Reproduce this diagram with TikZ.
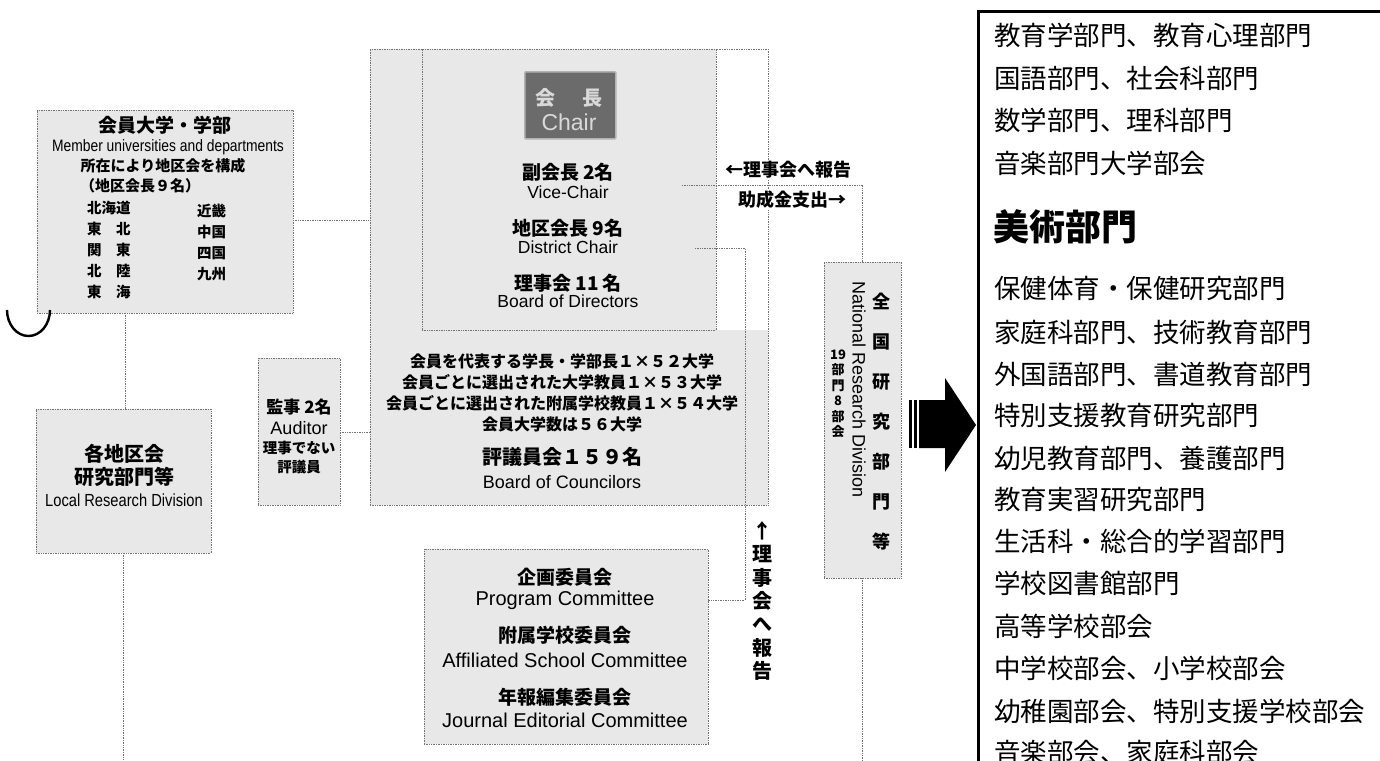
\documentclass[tikz,border=0pt]{standalone}
\usepackage{fontspec}
\setmainfont{Liberation Sans}
\newfontfamily\jp{Noto Sans CJK JP}
\newfontfamily\cond{Liberation Sans}[FakeStretch=0.84]
\newcommand\fsz[1]{\fontsize{#1}{#1}\selectfont}
\tikzset{
  box/.style={draw=black!55, densely dotted, line width=0.7pt, fill=black!9, inner sep=0pt, outer sep=0pt, anchor=north west},
  frame/.style={draw=black!55, densely dotted, line width=0.7pt, inner sep=0pt, outer sep=0pt, anchor=north west},
  conn/.style={draw=black!55, densely dotted, line width=0.7pt},
  jb/.style={font=\jp\bfseries\fsz{#1}, inner sep=0pt},
  en/.style={font=\fsz{#1}, inner sep=0pt},
  cn/.style={font=\cond\fsz{#1}, inner sep=0pt},
  pj/.style={font=\jp\fsz{26.5}, anchor=west, inner sep=0pt},
  lab/.style={font=\jp\bfseries\fsz{18}, fill=white, inner sep=1.5pt},
}
\begin{document}
\begin{tikzpicture}[x=1pt,y=-1pt]
\useasboundingbox (0,0) rectangle (1380,760);
% ---------- main outer region fill ----------
\fill[black!9] (370,49) -- (716,49) -- (716,330) -- (768,330) -- (768,505) -- (370,505) -- cycle;
\node[frame, minimum width=398pt, minimum height=456pt] (main) at (370,49) {};
\node[box, minimum width=294pt, minimum height=281pt] (board) at (422,49) {};
% ---------- boxes ----------
\node[box, minimum width=256pt, minimum height=203pt] (member) at (37,110) {};
\node[box, minimum width=175pt, minimum height=144pt] (local) at (36,409) {};
\node[box, minimum width=82pt, minimum height=147pt] (auditor) at (258,358) {};
\node[box, minimum width=284pt, minimum height=195pt] (committee) at (424,549) {};
\node[box, minimum width=77pt, minimum height=316pt] (national) at (824,262) {};
\node[draw=black!30, line width=1.6pt, fill=black!58, rounded corners=1pt, inner sep=0pt, anchor=north west, minimum width=91pt, minimum height=67pt] (chair) at (524,71) {};
% ---------- connectors ----------
\coordinate (mlx) at (125,0);
\coordinate (lbot) at (123.5,760);
\coordinate (vc) at (682,185);
\coordinate (dc) at (695,248);
\coordinate (dcr) at (745,600);
\coordinate (nbot) at (862.5,760);
\draw[conn] (member.east |- 0,220) -- (main.west |- 0,220);
\draw[conn] (member.south -| mlx) -- (local.north -| mlx);
\draw[conn] (local.south) -- (lbot);
\draw[conn] (auditor.east |- 0,432) -- (main.west |- 0,432);
\draw[conn] (vc) -| (national.north);
\draw[conn] (dc) -| (dcr) -- (committee.east |- dcr);
\draw[conn] (national.south) -- (nbot);
% ---------- left arc ----------
\draw[line width=2.4pt] (7,310) arc[start angle=180, end angle=0, x radius=21.5, y radius=26];
% ---------- member box text ----------
\node[jb=19] (m1) at (165,125) {会員大学・学部};
\node[cn=16.5] (m2) at (168,147) {Member universities and departments};
\node[jb=15] (m3) at (163,166) {所在により地区会を構成};
\node[jb=15, anchor=west] (m4) at (80,186) {（地区会長９名）};
\node[jb=14.5, anchor=west] (r1) at (87,208) {北海道};
\node[jb=14.5, anchor=west] (r2) at (87,229) {東　北};
\node[jb=14.5, anchor=west] (r3) at (87,250) {関　東};
\node[jb=14.5, anchor=west] (r4) at (87,271) {北　陸};
\node[jb=14.5, anchor=west] (r5) at (87,292) {東　海};
\node[jb=14.5, anchor=west] (r6) at (197,211) {近畿};
\node[jb=14.5, anchor=west] (r7) at (197,232) {中国};
\node[jb=14.5, anchor=west] (r8) at (197,253) {四国};
\node[jb=14.5, anchor=west] (r9) at (197,274) {九州};
% ---------- local box text ----------
\node[jb=20] (l1) at (124,454) {各地区会};
\node[jb=20] (l2) at (124,477) {研究部門等};
\node[cn=17.5] (l3) at (124,500) {Local Research Division};
% ---------- chair ----------
\node[jb=20, text=black!15] (c1) at (569,98) {会\hspace{27pt}長};
\node[en=23, text=black!15] (c2) at (569,122) {Chair};
% ---------- board text ----------
\node[jb=19] (b1) at (568,172) {副会長 2名};
\node[en=17.5] (b2) at (568,192) {Vice-Chair};
\node[jb=19] (b3) at (568,228) {地区会長 9名};
\node[en=17.5] (b4) at (568,247) {District Chair};
\node[jb=19] (b5) at (568,283) {理事会 11 名};
\node[en=17.5] (b6) at (568,301) {Board of Directors};
% ---------- council text ----------
\node[jb=16] (k1) at (562,361) {会員を代表する学長・学部長１×５２大学};
\node[jb=16] (k2) at (562,382) {会員ごとに選出された大学教員１×５３大学};
\node[jb=16] (k3) at (562,403) {会員ごとに選出された附属学校教員１×５４大学};
\node[jb=16] (k4) at (562,424) {会員大学数は５６大学};
\node[jb=20] (k5) at (562,457) {評議員会１５９名};
\node[en=18] (k6) at (562,482) {Board of Councilors};
% ---------- auditor text ----------
\node[jb=17] (a1) at (299,407) {監事 2名};
\node[en=18] (a2) at (299,428) {Auditor};
\node[jb=14.5] (a3) at (299,448) {理事でない};
\node[jb=14.5] (a4) at (299,467) {評議員};
% ---------- committee text ----------
\node[jb=19] (q1) at (565,577) {企画委員会};
\node[en=20] (q2) at (565,600) {Program Committee};
\node[jb=19] (q3) at (565,635) {附属学校委員会};
\node[en=20] (q4) at (565,660) {Affiliated School Committee};
\node[jb=19] (q5) at (565,697) {年報編集委員会};
\node[en=20] (q6) at (565,720) {Journal Editorial Committee};
% ---------- labels ----------
\node[lab] (rep1) at (788,170) {←理事会へ報告};
\node[lab] (sub1) at (792,200) {助成金支出→};
\node[font=\jp\bfseries\fontsize{20}{23.3}\selectfont, align=center, inner sep=0pt] (rep2) at (762,601) {↑\\理\\事\\会\\へ\\報\\告};
% ---------- national text ----------
\node[font=\jp\bfseries\fontsize{18}{40}\selectfont, align=center, inner sep=0pt] (n1) at (881,422) {全\\国\\研\\究\\部\\門\\等};
\node[en=18, rotate=-90] (n2) at (859,390) {National Research Division};
\node[font=\jp\bfseries\fontsize{13}{15.5}\selectfont, align=center, inner sep=0pt] (n3) at (838,394) {19\\部\\門\\8\\部\\会};
% ---------- big arrow ----------
\fill[black] (909,400) rectangle (912,448);
\fill[black] (914,400) rectangle (917,448);
\fill[black] (919,400) -- (945,400) -- (945,378) -- (976,425) -- (945,472) -- (945,448) -- (919,448) -- cycle;
% ---------- right panel ----------
\draw[line width=3pt] (978,762) -- (978,12) -- (1385,12);
\node[pj] (p1) at (994,35) {教育学部門、教育心理部門};
\node[pj] (p2) at (994,78) {国語部門、社会科部門};
\node[pj] (p3) at (994,120) {数学部門、理科部門};
\node[pj] (p4) at (994,163) {音楽部門大学部会};
\node[pj, font=\jp\bfseries\fsz{36}] (p5) at (993,227) {美術部門};
\node[pj] (p6) at (994,288) {保健体育・保健研究部門};
\node[pj] (p7) at (994,332) {家庭科部門、技術教育部門};
\node[pj] (p8) at (994,374) {外国語部門、書道教育部門};
\node[pj] (p9) at (994,415) {特別支援教育研究部門};
\node[pj] (p10) at (994,458) {幼児教育部門、養護部門};
\node[pj] (p11) at (994,499) {教育実習研究部門};
\node[pj] (p12) at (994,541) {生活科・総合的学習部門};
\node[pj] (p13) at (994,583) {学校図書館部門};
\node[pj] (p14) at (994,626) {高等学校部会};
\node[pj] (p15) at (994,668) {中学校部会、小学校部会};
\node[pj] (p16) at (994,711) {幼稚園部会、特別支援学校部会};
\node[pj] (p17) at (994,752) {音楽部会、家庭科部会};
\end{tikzpicture}
\end{document}
